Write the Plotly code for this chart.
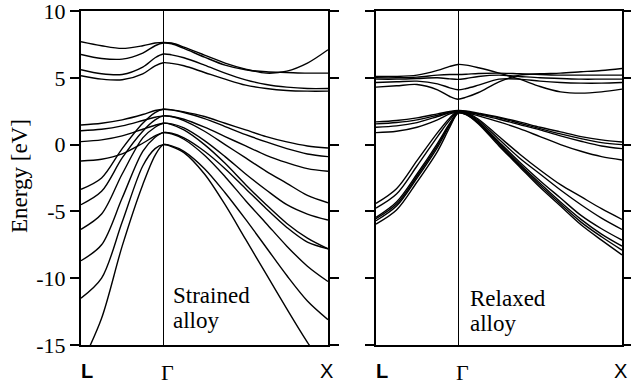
import plotly.graph_objects as go

# k-path sample positions (L = 0, Gamma = 1, X = 3)
k_path = [0, 0.25, 0.5, 0.75, 0.9, 1.0, 1.1, 1.25, 1.5, 1.75, 2.0, 2.25, 2.5, 2.75, 3.0]
k_label_pos = [0, 1, 3]
k_labels = ["L", "Γ", "X"]
energy_ticks = [10, 5, 0, -5, -10, -15]
energy_tick_text = ["10", "5", "0", "-5", "-10", "-15"]

# Strained alloy (left panel)
strained_conduction = [
    [7.7, 7.4, 7.2, 7.4, 7.6, 7.65, 7.6, 7.3, 6.7, 6.1, 5.65, 5.35, 5.5, 6.1, 7.1],
    [6.75, 6.45, 6.4, 6.85, 7.4, 7.6, 7.55, 7.2, 6.55, 5.95, 5.6, 5.45, 5.4, 5.35, 5.35],
    [5.6, 5.3, 5.25, 5.8, 6.5, 6.78, 6.72, 6.5, 5.95, 5.35, 4.85, 4.5, 4.3, 4.2, 4.2],
    [5.15, 4.9, 4.85, 5.3, 5.9, 6.13, 6.08, 5.9, 5.4, 4.9, 4.45, 4.2, 4.05, 4.0, 4.0],
]
strained_valence = [
    [1.47, 1.6, 1.85, 2.25, 2.55, 2.65, 2.6, 2.45, 2.1, 1.6, 1.1, 0.6, 0.2, -0.1, -0.25],
    [-3.35, -2.5, -0.3, 1.6, 2.4, 2.65, 2.6, 2.4, 1.95, 1.35, 0.75, 0.2, -0.3, -0.7, -0.9],
    [1.04, 1.15, 1.4, 1.8, 2.05, 2.15, 2.1, 1.9, 1.3, 0.6, -0.1, -0.8, -1.35, -1.8, -2.0],
    [-4.5, -3.5, -1.0, 1.0, 1.85, 2.15, 2.1, 1.8, 1.0, 0.0, -1.0, -2.0, -2.9, -3.8, -4.35],
    [0.22, 0.35, 0.65, 1.15, 1.45, 1.6, 1.55, 1.25, 0.3, -0.9, -2.2, -3.4, -4.5, -5.2, -5.65],
    [-6.34, -5.2, -2.2, 0.5, 1.3, 1.6, 1.5, 1.1, 0.0, -1.4, -3.0, -4.5, -5.9, -7.0, -7.8],
    [-1.23, -1.1, -0.7, 0.1, 0.65, 0.9, 0.85, 0.5, -0.5, -1.8, -3.3, -4.8, -6.2, -7.3, -7.8],
    [-8.69, -7.5, -4.0, -0.5, 0.55, 0.9, 0.8, 0.4, -0.8, -2.4, -4.2, -5.9, -7.6, -9.1, -10.25],
    [-11.5, -10.0, -5.8, -1.6, -0.3, 0.0, -0.1, -0.5, -1.8, -3.6, -5.6, -7.7, -9.8, -11.7, -13.1],
    [-16.5, -13.0, -7.6, -3.0, -0.8, 0.0, -0.15, -0.6, -2.2, -4.5, -7.1, -9.7, -12.3, -14.8, -17.0],
]

# Relaxed alloy (right panel)
relaxed_conduction = [
    [5.1, 5.1, 5.2, 5.55, 5.85, 6.0, 5.95, 5.75, 5.35, 4.9, 4.35, 3.95, 3.85, 3.95, 4.15],
    [5.0, 5.0, 5.05, 5.2, 5.25, 5.25, 5.27, 5.32, 5.35, 5.3, 5.25, 5.2, 5.2, 5.2, 5.2],
    [4.9, 4.9, 4.95, 5.0, 4.92, 4.88, 4.95, 5.1, 5.2, 5.1, 5.0, 4.95, 4.9, 4.9, 4.9],
    [4.65, 4.7, 4.75, 4.55, 4.25, 4.1, 4.2, 4.45, 4.9, 4.9, 4.75, 4.65, 4.6, 4.6, 4.65],
    [4.3, 4.4, 4.5, 4.1, 3.6, 3.4, 3.55, 3.9, 4.7, 5.2, 5.3, 5.35, 5.45, 5.55, 5.7],
]
relaxed_valence = [
    [1.7, 1.8, 2.0, 2.3, 2.48, 2.55, 2.52, 2.35, 2.05, 1.7, 1.3, 0.95, 0.6, 0.35, 0.2],
    [1.55, 1.65, 1.85, 2.2, 2.42, 2.5, 2.47, 2.3, 2.0, 1.6, 1.2, 0.8, 0.45, 0.15, 0.0],
    [1.3, 1.4, 1.65, 2.1, 2.38, 2.5, 2.45, 2.25, 1.9, 1.5, 1.1, 0.65, 0.25, -0.1, -0.3],
    [0.9, 1.0, 1.3, 1.85, 2.3, 2.45, 2.4, 2.15, 1.7, 1.2, 0.6, 0.0, -0.5, -0.9, -1.15],
    [-4.4, -3.3, -1.2, 0.9, 2.0, 2.5, 2.4, 1.9, 0.6, -0.7, -1.9, -3.0, -3.9, -4.8, -5.6],
    [-4.75, -3.7, -1.6, 0.6, 1.85, 2.45, 2.35, 1.8, 0.4, -1.0, -2.2, -3.4, -4.5, -5.5, -6.35],
    [-5.45, -4.3, -2.2, 0.1, 1.6, 2.4, 2.3, 1.7, 0.2, -1.3, -2.7, -4.0, -5.3, -6.3, -7.15],
    [-5.55, -4.45, -2.35, -0.05, 1.5, 2.4, 2.3, 1.65, 0.1, -1.45, -2.9, -4.3, -5.6, -6.7, -7.6],
    [-5.7, -4.6, -2.5, -0.2, 1.45, 2.35, 2.25, 1.6, 0.0, -1.55, -3.05, -4.45, -5.8, -6.9, -7.9],
    [-5.95, -4.9, -2.8, -0.5, 1.3, 2.35, 2.25, 1.55, -0.1, -1.65, -3.2, -4.6, -6.0, -7.15, -8.25],
]

panel_text = [["Strained", "alloy"], ["Relaxed", "alloy"]]

W, H = 631, 386
fig = go.Figure()

panels = [
    (strained_conduction + strained_valence, "x", "y"),
    (relaxed_conduction + relaxed_valence, "x2", "y2"),
]
for bands, xa, ya in panels:
    for e in bands:
        fig.add_trace(go.Scatter(
            x=k_path, y=e, mode="lines", xaxis=xa, yaxis=ya,
            line=dict(color="black", width=1.4, shape="spline", smoothing=0.9),
            hoverinfo="skip", showlegend=False))

ydom = [41 / H, 375 / H]
serif = "Liberation Serif"
xcommon = dict(range=[0, 3], tickvals=[1], showticklabels=False, ticks="",
               showgrid=True, gridcolor="black", gridwidth=1,
               showline=True, linecolor="black", linewidth=2, mirror=True,
               zeroline=False, fixedrange=True)
ycommon = dict(range=[-15, 10], tickvals=energy_ticks, ticktext=energy_tick_text,
               ticks="outside", ticklen=9, tickwidth=2, tickcolor="black",
               showline=True, linecolor="black", linewidth=2, mirror="ticks",
               showgrid=False, zeroline=False, domain=ydom, fixedrange=True)

fig.update_layout(
    width=W, height=H, margin=dict(l=0, r=0, t=0, b=0, autoexpand=False),
    paper_bgcolor="white", plot_bgcolor="white",
    xaxis=dict(domain=[81 / W, 328 / W], anchor="y", **xcommon),
    yaxis=dict(anchor="x", showticklabels=True, ticklabeloverflow="allow",
               tickfont=dict(family=serif, size=22, color="black"), **ycommon),
    xaxis2=dict(domain=[376 / W, 622 / W], anchor="y2", **xcommon),
    yaxis2=dict(anchor="x2", showticklabels=False, **ycommon),
)

ann = []
label_fonts = [
    dict(family="Liberation Sans", size=20, color="black"),
    dict(family=serif, size=22, color="black"),
    dict(family="Liberation Sans", size=20, color="black"),
]
for xa in ["x", "x2"]:
    for pos, lab, fnt in zip(k_label_pos, k_labels, label_fonts):
        txt = "<b>L</b>" if lab == "L" else lab
        if lab == "L":
            xanchor, xs = "left", -2
        elif lab == "Γ":
            xanchor, xs = "center", 4
        else:
            xanchor, xs = "center", -2
        ann.append(dict(x=pos, y=-15, xref=xa, yref="y", text=txt, showarrow=False,
                        xanchor=xanchor, yanchor="top", xshift=xs, yshift=-13, font=fnt))

text_pos = [(1.10, -11.33, -13.2, "x", "y"), (1.13, -11.5, -13.37, "x2", "y2")]
for (tx, ty1, ty2, xa, ya), (l1, l2) in zip(text_pos, panel_text):
    for ty, t in ((ty1, l1), (ty2, l2)):
        ann.append(dict(x=tx, y=ty, xref=xa, yref=ya, text=t, showarrow=False,
                        xanchor="left", yanchor="middle", borderpad=0,
                        font=dict(family=serif, size=23, color="black")))

ann.append(dict(x=20 / W, y=(H - 176) / H, xref="paper", yref="paper",
                text="Energy [eV]", textangle=-90, showarrow=False,
                xanchor="center", yanchor="middle",
                font=dict(family=serif, size=23, color="black")))
fig.update_layout(annotations=ann)

fig.write_html(
    "out.html",
    config={"displayModeBar": False, "staticPlot": True},
    post_script="document.body.style.margin='0';document.body.style.overflow='hidden';",
)
